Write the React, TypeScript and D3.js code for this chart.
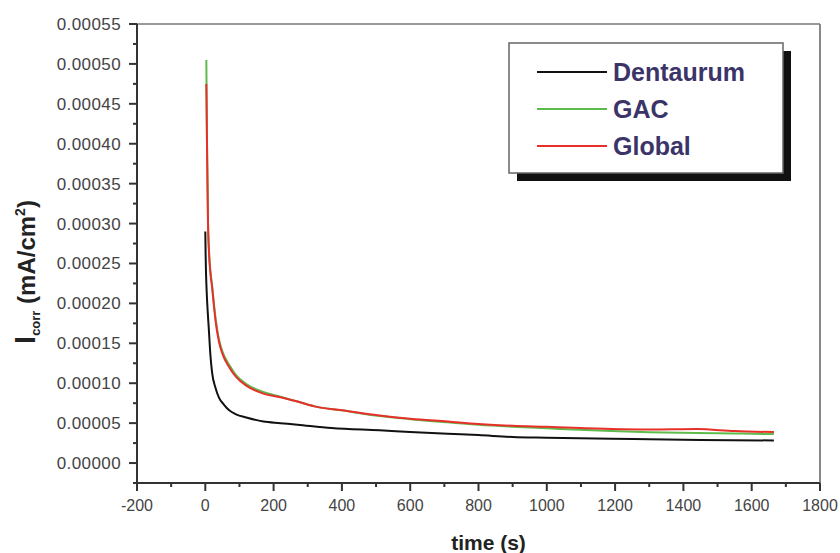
import React from "react";
import * as d3 from "d3";

// ---- data ----
const dentT = [0, 1, 2, 4, 7, 10, 15, 20, 30, 40, 55, 70, 90, 120, 170, 220, 270, 370, 510, 600, 710, 800, 900, 1000, 1190, 1300, 1450, 1665];
const dentV = [0.00029, 0.00026, 0.00024, 0.000215, 0.00019, 0.00017, 0.000135, 0.000113, 0.000094, 0.000082, 0.000073, 0.000066, 0.000061, 0.000057, 0.000052, 0.00005, 0.000048, 0.0000438, 0.000041, 0.000039, 0.0000367, 0.000035, 0.0000326, 0.0000318, 0.0000305, 0.0000298, 0.000029, 0.0000283];

const gacT = [3, 5, 8, 11, 15, 20, 25, 30, 40, 50, 70, 90, 120, 170, 220, 270, 320, 400, 510, 600, 710, 800, 900, 1000, 1190, 1300, 1440, 1550, 1665];
const gacV = [0.000505, 0.0004, 0.0003, 0.000265, 0.00024, 0.000222, 0.0002, 0.000182, 0.000155, 0.00014, 0.000123, 0.00011, 0.000099, 0.000089, 0.000083, 0.000077, 0.000071, 0.000066, 0.000059, 0.000055, 0.000051, 0.000048, 0.0000455, 0.0000435, 0.00004, 0.0000385, 0.0000376, 0.000037, 0.0000363];

const globT = [3, 5, 8, 11, 15, 20, 25, 30, 40, 50, 70, 90, 120, 170, 220, 270, 320, 400, 510, 600, 710, 800, 900, 1000, 1190, 1300, 1440, 1550, 1665];
const globV = [0.000475, 0.0004, 0.0003, 0.000262, 0.000238, 0.00022, 0.000198, 0.000178, 0.000152, 0.000137, 0.00012, 0.000108, 0.000097, 0.000087, 0.0000825, 0.000077, 0.000071, 0.000066, 0.0000595, 0.0000555, 0.000052, 0.000049, 0.0000467, 0.0000455, 0.0000426, 0.000042, 0.0000426, 0.00004, 0.0000388];

const seriesNames = ["Dentaurum", "GAC", "Global"];
const seriesColors = ["#111111", "#5dbb4c", "#e8302a"];

const xMajor = [-200, 0, 200, 400, 600, 800, 1000, 1200, 1400, 1600, 1800];
const xMinor = [-100, 100, 300, 500, 700, 900, 1100, 1300, 1500, 1700];
const yMajor = [0, 0.00005, 0.0001, 0.00015, 0.0002, 0.00025, 0.0003, 0.00035, 0.0004, 0.00045, 0.0005, 0.00055];
const yMinor = [-0.000025, 0.000025, 0.000075, 0.000125, 0.000175, 0.000225, 0.000275, 0.000325, 0.000375, 0.000425, 0.000475, 0.000525];

const W = 840;
const H = 553;
const left = 137;
const right = 820;
const top = 24;
const bottom = 483;

export default function App() {
  const x = d3.scaleLinear().domain([-200, 1800]).range([left, right]);
  const y = d3.scaleLinear().domain([-0.000025, 0.00055]).range([bottom, top]);

  const line = d3
    .line<[number, number]>()
    .x((d) => x(d[0]))
    .y((d) => y(d[1]))
    .curve(d3.curveMonotoneX);

  const series = [
    { T: dentT, V: dentV },
    { T: gacT, V: gacV },
    { T: globT, V: globV },
  ];

  const axisColor = "#333";
  const labelColor = "#444";
  const font = "Liberation Sans, Arial, sans-serif";
  const legendY = [72, 109, 146];

  return (
    <div style={{ position: "absolute", left: 0, top: 0 }}>
      <svg width={W} height={H} style={{ display: "block", background: "#fff" }} fontFamily={font}>
        {/* frame top & right */}
        <line x1={left} x2={right} y1={top} y2={top} stroke="#777" strokeWidth={1.5} />
        <line x1={right} x2={right} y1={top} y2={bottom} stroke="#888" strokeWidth={2} />

        {/* series */}
        {series.map((s, i) => (
          <path
            key={i}
            d={line(s.T.map((t, j) => [t, s.V[j]] as [number, number])) || ""}
            fill="none"
            stroke={seriesColors[i]}
            strokeWidth={2}
          />
        ))}

        {/* axes */}
        <line x1={left} x2={left} y1={top} y2={bottom} stroke={axisColor} strokeWidth={2} />
        <line x1={left} x2={right} y1={bottom} y2={bottom} stroke={axisColor} strokeWidth={2} />

        {yMajor.map((v) => (
          <g key={"ym" + v}>
            <line x1={left - 8} x2={left} y1={y(v)} y2={y(v)} stroke={axisColor} strokeWidth={2} />
            <text x={left - 16} y={y(v)} dy="0.35em" textAnchor="end" fontSize={17} fill={labelColor} letterSpacing={0.4}>
              {v.toFixed(5)}
            </text>
          </g>
        ))}
        {yMinor.map((v) => (
          <line key={"yn" + v} x1={left - 4} x2={left} y1={y(v)} y2={y(v)} stroke={axisColor} strokeWidth={2} />
        ))}

        {xMajor.map((v) => (
          <g key={"xm" + v}>
            <line x1={x(v)} x2={x(v)} y1={bottom} y2={bottom + 8} stroke={axisColor} strokeWidth={2} />
            <text x={x(v)} y={bottom + 28} textAnchor="middle" fontSize={16} fill={labelColor}>
              {v}
            </text>
          </g>
        ))}
        {xMinor.map((v) => (
          <line key={"xn" + v} x1={x(v)} x2={x(v)} y1={bottom} y2={bottom + 4} stroke={axisColor} strokeWidth={2} />
        ))}

        {/* axis titles */}
        <text x={(left + right) / 2 + 10} y={550} textAnchor="middle" fontSize={21} fontWeight="bold" fill="#222">
          time (s)
        </text>
        <text transform="translate(35,272) rotate(-90)" textAnchor="middle" fontWeight="bold" fill="#222" fontSize={24}>
          <tspan fontSize={29}>I</tspan>
          <tspan fontSize={13} dy={5}>corr</tspan>
          <tspan dy={-5}> (mA/cm</tspan>
          <tspan fontSize={14} dy={-10}>2</tspan>
          <tspan dy={10}>)</tspan>
        </text>

        {/* legend */}
        <rect x={517} y={51} width={274} height={130} fill="#111" />
        <rect x={509} y={43} width={274} height={130} fill="#fff" stroke="#666" strokeWidth={1.5} />
        {seriesNames.map((n, i) => (
          <g key={n}>
            <line x1={537} x2={607} y1={legendY[i]} y2={legendY[i]} stroke={seriesColors[i]} strokeWidth={2} />
            <text x={613} y={legendY[i]} dy="0.35em" fontSize={25} fontWeight="bold" fill="#3b3468">
              {n}
            </text>
          </g>
        ))}
      </svg>
    </div>
  );
}
